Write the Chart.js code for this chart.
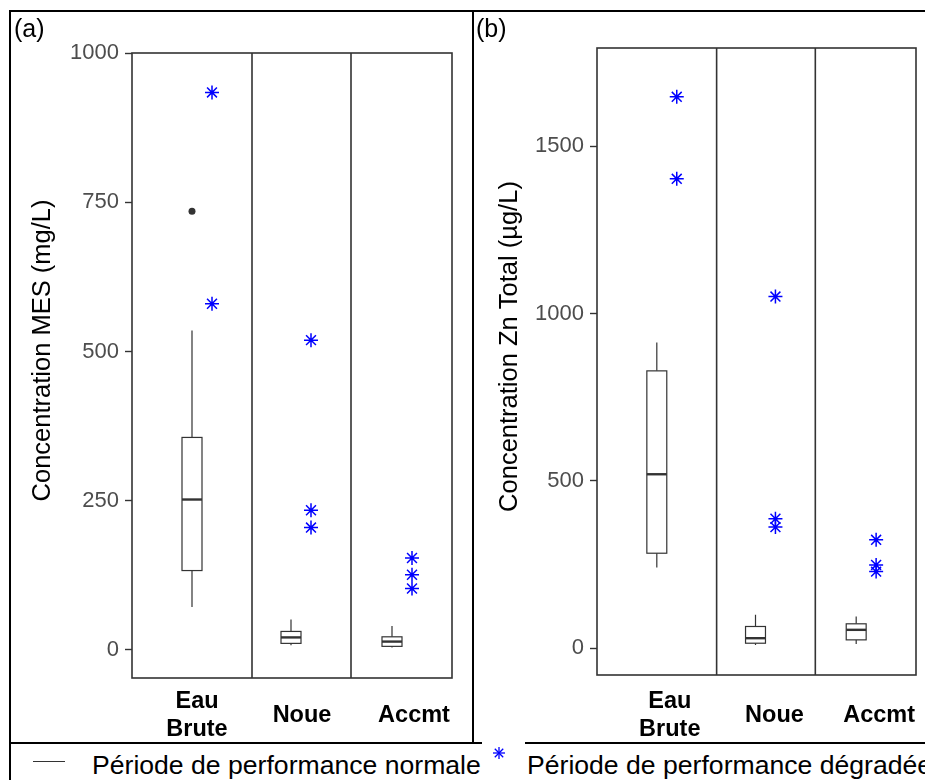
<!DOCTYPE html>
<html lang="fr">
<head>
<meta charset="utf-8">
<title>Concentrations MES et Zn total</title>
<script src="https://cdn.jsdelivr.net/npm/chart.js@4.4.1/dist/chart.umd.min.js"></script>
<style>
  html, body { margin: 0; padding: 0; background: #fff; }
  #figure { position: relative; width: 925px; height: 780px; overflow: hidden; font-family: Arial, "Liberation Sans", sans-serif; }
  #figure canvas { position: absolute; }
  .rule { position: absolute; background: #000; }
  .tag { position: absolute; top: 16px; font-size: 25px; line-height: 25px; color: #000; }
  .legend-text { position: absolute; top: 752px; font-size: 26.6px; line-height: 26px; white-space: nowrap; color: #000; }
</style>
</head>
<body>
<div id="figure">
  <canvas id="chartMes" width="461" height="730" style="left:11px;top:12px;width:461px;height:730px"></canvas>
  <canvas id="chartZn" width="451" height="730" style="left:474px;top:12px;width:451px;height:730px"></canvas>

  <div class="rule" style="left:9px;top:10px;width:916px;height:2px"></div>
  <div class="rule" style="left:9px;top:10px;width:2px;height:770px"></div>
  <div class="rule" style="left:472px;top:10px;width:2px;height:733px"></div>
  <div class="rule" style="left:9px;top:742px;width:473px;height:2px"></div>
  <div class="rule" style="left:525px;top:742px;width:400px;height:2px"></div>

  <div class="tag" style="left:14px">(a)</div>
  <div class="tag" style="left:476px">(b)</div>

  <div style="position:absolute;left:33px;top:761px;width:32px;height:1px;background:#333"></div>
  <div class="legend-text" style="left:92px">Période de performance normale</div>
  <svg style="position:absolute;left:492px;top:746px" width="14" height="14">
    <g stroke="#0000ff" stroke-width="1.3">
      <line x1="7" y1="1" x2="7" y2="13"/>
      <line x1="1" y1="7" x2="13" y2="7"/>
      <line x1="2.8" y1="2.8" x2="11.2" y2="11.2"/>
      <line x1="2.8" y1="11.2" x2="11.2" y2="2.8"/>
    </g>
  </svg>
  <div class="legend-text" style="left:527px">Période de performance dégradée</div>
</div>

<script>
// x axis categories (one facet each)
const CATEGORIES = [['Eau', 'Brute'], 'Noue', 'Accmt'];

// (a) MES, mg/L - box stats for the normal period
const MES_LOW = [72, 8, 4];
const MES_Q1 = [133, 11, 6];
const MES_MEDIAN = [252, 21, 14];
const MES_Q3 = [356, 31, 22];
const MES_HIGH = [535, 51, 40];
const MES_OUTLIERS = [[735], [], []];
// degraded period samples
const MES_DEGRADED = [[934, 580], [519, 234, 205], [154, 126, 103]];
const MES_TICKS = [0, 250, 500, 750, 1000];

// (b) Zn total, µg/L
const ZN_LOW = [241, 10, 13];
const ZN_Q1 = [284, 15, 25];
const ZN_MEDIAN = [520, 30, 55];
const ZN_Q3 = [829, 65, 73];
const ZN_HIGH = [914, 100, 95];
const ZN_OUTLIERS = [[], [], []];
const ZN_DEGRADED = [[1648, 1403], [1051, 387, 362], [324, 249, 229]];
const ZN_TICKS = [0, 500, 1000, 1500];

// facet layout in x-axis units (first facet is a bit wider)
const FACET_EDGES = [0, 120, 219, 320];
const BOX_OFFSET = 60;   // box centre, measured back from the facet's right edge
const STAR_OFFSET = 40;  // degraded points, same reference
const BOX_HALF = 10;

const FONT = 'Arial, "Liberation Sans", sans-serif';
const INK = '#333333';

const boxX = i => FACET_EDGES[i + 1] - BOX_OFFSET;
const starX = i => FACET_EDGES[i + 1] - STAR_OFFSET;

/**
 * Plugin drawing boxes, panel border, facet dividers and the y title
 */
function facetBoxPlugin(stats, title, titleGap) {
    return {
        id: 'facetBox',
        beforeDatasetsDraw(chart) {
            const { ctx } = chart;
            const x = chart.scales.x;
            const y = chart.scales.y;
            ctx.save();
            ctx.strokeStyle = INK;
            stats.median.forEach((median, i) => {
                const mid = x.getPixelForValue(boxX(i));
                const left = x.getPixelForValue(boxX(i) - BOX_HALF);
                const right = x.getPixelForValue(boxX(i) + BOX_HALF);
                const top = y.getPixelForValue(stats.q3[i]);
                const bottom = y.getPixelForValue(stats.q1[i]);

                ctx.lineWidth = 1.2;
                ctx.beginPath();
                ctx.moveTo(mid, y.getPixelForValue(stats.high[i]));
                ctx.lineTo(mid, top);
                ctx.moveTo(mid, bottom);
                ctx.lineTo(mid, y.getPixelForValue(stats.low[i]));
                ctx.stroke();

                ctx.fillStyle = '#fff';
                ctx.fillRect(left, top, right - left, bottom - top);
                ctx.strokeRect(left, top, right - left, bottom - top);

                ctx.lineWidth = 2.4;
                ctx.beginPath();
                ctx.moveTo(left, y.getPixelForValue(median));
                ctx.lineTo(right, y.getPixelForValue(median));
                ctx.stroke();
            });
            ctx.restore();
        },
        afterDraw(chart) {
            const { ctx, chartArea: area } = chart;
            const x = chart.scales.x;
            ctx.save();
            ctx.strokeStyle = INK;
            ctx.lineWidth = 1.6;
            ctx.strokeRect(area.left, area.top, area.width, area.height);
            ctx.beginPath();
            FACET_EDGES.slice(1, -1).forEach(edge => {
                const px = x.getPixelForValue(edge);
                ctx.moveTo(px, area.top);
                ctx.lineTo(px, area.bottom);
            });
            ctx.stroke();

            // axis title sits a little above the panel centre in the original
            ctx.translate(area.left - titleGap, (area.top + area.bottom) / 2 - 15);
            ctx.rotate(-Math.PI / 2);
            ctx.fillStyle = '#000';
            ctx.font = '25.5px ' + FONT;
            ctx.textAlign = 'center';
            ctx.textBaseline = 'middle';
            ctx.fillText(title, 0, 0);
            ctx.restore();
        }
    };
}

function makePanel(canvasId, panel) {
    const degradedPoints = [];
    panel.degraded.forEach((values, i) => {
        values.forEach(v => degradedPoints.push({ x: starX(i), y: v }));
    });
    const outlierPoints = [];
    panel.outliers.forEach((values, i) => {
        values.forEach(v => outlierPoints.push({ x: boxX(i), y: v }));
    });

    const stats = {
        low: panel.low, q1: panel.q1, median: panel.median, q3: panel.q3, high: panel.high
    };

    return new Chart(document.getElementById(canvasId), {
        type: 'scatter',
        data: {
            datasets: [
                {
                    label: 'Période de performance dégradée',
                    data: degradedPoints,
                    pointStyle: 'star',
                    pointRadius: 7,
                    pointBorderWidth: 1.5,
                    pointBorderColor: '#0000ff',
                    pointBackgroundColor: '#0000ff'
                },
                {
                    label: 'Valeur atypique',
                    data: outlierPoints,
                    pointStyle: 'circle',
                    pointRadius: 3.5,
                    pointBorderWidth: 0,
                    pointBackgroundColor: INK
                }
            ]
        },
        options: {
            responsive: false,
            animation: false,
            layout: { padding: { top: panel.padTop, right: panel.padRight, left: 0, bottom: 0 } },
            plugins: {
                legend: { display: false },
                tooltip: { enabled: false }
            },
            scales: {
                x: {
                    type: 'linear',
                    min: FACET_EDGES[0],
                    max: FACET_EDGES[FACET_EDGES.length - 1],
                    afterBuildTicks: axis => {
                        axis.ticks = panel.labelPos.map(v => ({ value: v }));
                    },
                    afterFit: axis => {
                        axis.height = panel.xAxisHeight;
                        // labels fit inside the panel, don't let them shrink the plot area
                        axis.paddingLeft = 0;
                        axis.paddingRight = 0;
                    },
                    grid: { display: false, drawTicks: false },
                    border: { display: false },
                    ticks: {
                        autoSkip: false,
                        maxRotation: 0,
                        crossAlign: 'center',
                        padding: panel.labelPad,
                        color: '#000',
                        font: { family: FONT, size: 23.5, weight: 'bold', lineHeight: 1.15 },
                        callback: (value, index) => CATEGORIES[index]
                    }
                },
                y: {
                    min: panel.yMin,
                    max: panel.yMax,
                    afterBuildTicks: axis => {
                        axis.ticks = panel.ticks.map(v => ({ value: v }));
                    },
                    afterFit: axis => { axis.width = panel.yAxisWidth; },
                    grid: {
                        drawOnChartArea: false,
                        drawTicks: true,
                        tickLength: 7,
                        tickColor: INK,
                        tickWidth: 1.4
                    },
                    border: { display: false },
                    ticks: {
                        padding: 6,
                        color: '#4d4d4d',
                        font: { family: FONT, size: 22 },
                        callback: value => String(value)
                    }
                }
            }
        },
        plugins: [facetBoxPlugin(stats, panel.title, panel.titleGap)]
    });
}

makePanel('chartMes', {
    low: MES_LOW, q1: MES_Q1, median: MES_MEDIAN, q3: MES_Q3, high: MES_HIGH,
    outliers: MES_OUTLIERS, degraded: MES_DEGRADED, ticks: MES_TICKS,
    yMin: -47, yMax: 1000,
    title: 'Concentration MES (mg/L)',
    yAxisWidth: 121, xAxisHeight: 64, padTop: 41, padRight: 20,
    labelPos: [65, 170, 282], labelPad: 24, titleGap: 89
});

makePanel('chartZn', {
    low: ZN_LOW, q1: ZN_Q1, median: ZN_MEDIAN, q3: ZN_Q3, high: ZN_HIGH,
    outliers: ZN_OUTLIERS, degraded: ZN_DEGRADED, ticks: ZN_TICKS,
    yMin: -80, yMax: 1794,
    title: 'Concentration Zn Total (µg/L)',
    yAxisWidth: 123, xAxisHeight: 67, padTop: 36, padRight: 9,
    labelPos: [73, 178, 283], labelPad: 27, titleGap: 87
});
</script>
</body>
</html>
